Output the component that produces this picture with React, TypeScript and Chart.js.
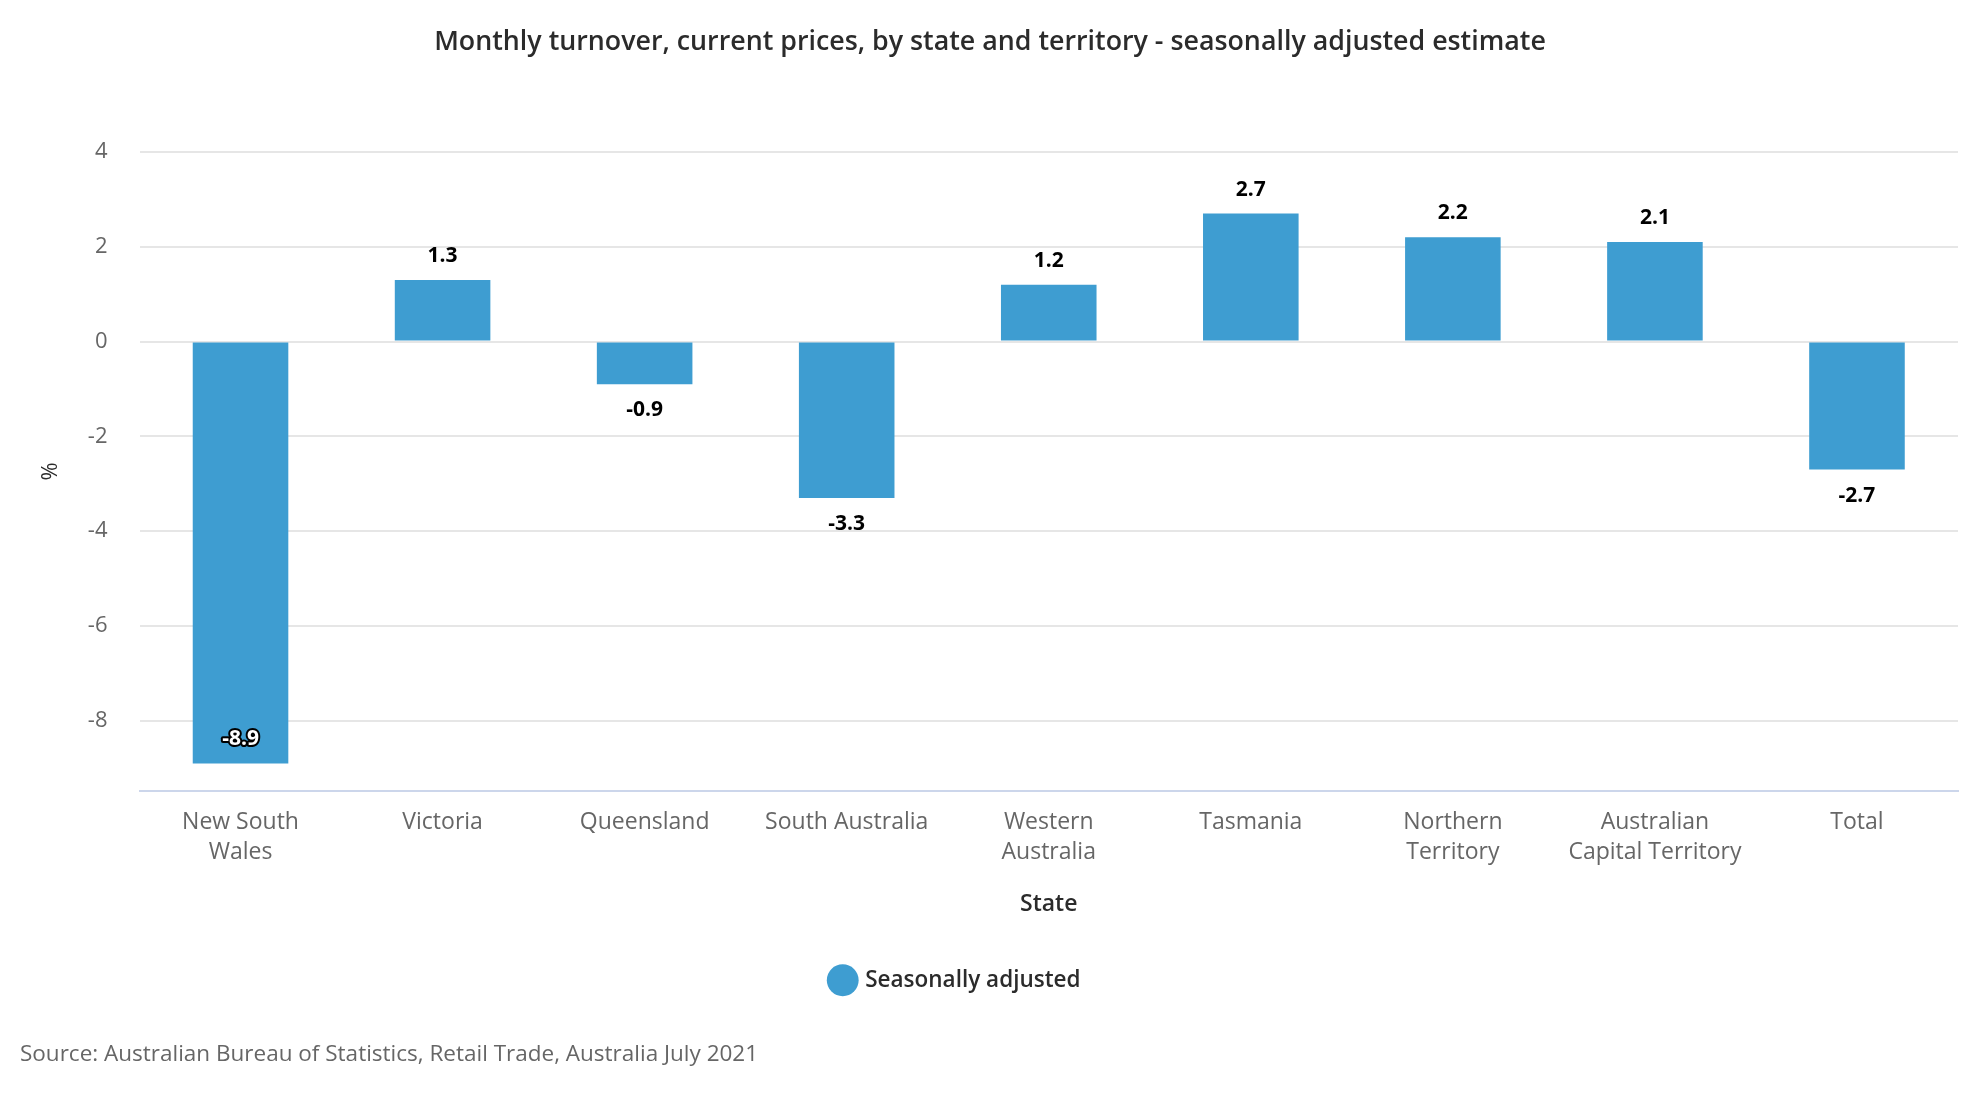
import React, { useEffect, useRef } from "react";
import { Chart, registerables } from "chart.js";

Chart.register(...registerables);

const titleText =
  "Monthly turnover, current prices, by state and territory - seasonally adjusted estimate";
const sourceText =
  "Source: Australian Bureau of Statistics, Retail Trade, Australia July 2021";
const seriesName = "Seasonally adjusted";
const xAxisTitle = "State";
const yAxisTitle = "%";

const categories: (string | string[])[] = [
  ["New South", "Wales"],
  "Victoria",
  "Queensland",
  "South Australia",
  ["Western", "Australia"],
  "Tasmania",
  ["Northern", "Territory"],
  ["Australian", "Capital Territory"],
  "Total",
];
const seasonallyAdjusted = [-8.9, 1.3, -0.9, -3.3, 1.2, 2.7, 2.2, 2.1, -2.7];
const yTickValues = [-8, -6, -4, -2, 0, 2, 4];
const yMin = -9.48;
const yMax = 4;

const FONT = "'Open Sans', 'Noto Sans', sans-serif";
const BAR_COLOR = "#3e9dd1";

const barLabelPlugin = {
  id: "barLabels",
  afterDatasetsDraw(chart: any) {
    const { ctx, chartArea } = chart;
    const meta = chart.getDatasetMeta(0);
    const data = chart.data.datasets[0].data as number[];
    ctx.save();
    ctx.font = `700 21px ${FONT}`;
    ctx.textAlign = "center";
    ctx.textBaseline = "middle";
    ctx.lineJoin = "round";
    meta.data.forEach((el: any, i: number) => {
      const v = data[i];
      const text = v.toFixed(1);
      let y: number;
      let inside = false;
      if (v >= 0) {
        y = el.y - 24;
      } else {
        y = el.y + 26;
        if (y + 12 > chartArea.bottom) {
          y = el.y - 24;
          inside = true;
        }
      }
      if (inside) {
        ctx.strokeStyle = "#000000";
        ctx.lineWidth = 4;
        ctx.strokeText(text, el.x, y);
        ctx.fillStyle = "#ffffff";
        ctx.fillText(text, el.x, y);
      } else {
        ctx.fillStyle = "#000000";
        ctx.fillText(text, el.x, y);
      }
    });
    ctx.restore();
  },
};

const textPlugin = {
  id: "titleSource",
  afterLayout(chart: any) {
    const lg = chart.legend;
    if (lg) {
      lg.left -= 23;
      lg.right -= 23;
    }
  },
  afterDraw(chart: any) {
    const { ctx } = chart;
    ctx.save();
    ctx.textBaseline = "middle";
    ctx.textAlign = "center";
    ctx.fillStyle = "#2b2b2b";
    ctx.font = `600 26.8px ${FONT}`;
    ctx.fillText(titleText, 990, 42);
    ctx.textAlign = "left";
    ctx.fillStyle = "#666666";
    ctx.font = `400 22.5px ${FONT}`;
    ctx.fillText(sourceText, 20, 1055);
    ctx.restore();
  },
};

export default function App() {
  const canvasRef = useRef<HTMLCanvasElement | null>(null);

  useEffect(() => {
    if (!canvasRef.current) return;
    const chart = new Chart(canvasRef.current, {
      type: "bar",
      data: {
        labels: categories,
        datasets: [
          {
            label: seriesName,
            data: seasonallyAdjusted,
            backgroundColor: BAR_COLOR,
            borderWidth: 0,
            categoryPercentage: 1,
            barPercentage: 0.473,
          },
        ],
      },
      options: {
        animation: false,
        responsive: true,
        maintainAspectRatio: false,
        layout: { padding: { top: 152, right: 22, bottom: 98.5, left: 0 } },
        plugins: {
          title: { display: false },
          tooltip: { enabled: false },
          legend: {
            position: "bottom",
            labels: {
              usePointStyle: true,
              pointStyle: "circle",
              boxWidth: 22.6,
              boxHeight: 22.6,
              padding: 10,
              color: "#2b2b2b",
              font: { family: FONT, size: 22.5, weight: "600" },
            },
          },
        },
        scales: {
          x: {
            type: "category",
            grid: { display: false, drawTicks: false },
            border: { display: true, color: "#ccd6eb", width: 2 },
            ticks: {
              color: "#666666",
              font: { family: FONT, size: 23, lineHeight: 1.3 },
              padding: 17,
              maxRotation: 0,
              minRotation: 0,
              autoSkip: false,
            },
            title: {
              display: true,
              text: xAxisTitle,
              color: "#2b2b2b",
              font: { family: FONT, size: 23, weight: "600", lineHeight: 1.2 },
              padding: { top: 0, bottom: 41 },
            },
            afterFit(scale: any) {
              scale.height = 168;
            },
          },
          y: {
            type: "linear",
            min: yMin,
            max: yMax,
            grid: { color: "#e6e6e6", lineWidth: 2, drawTicks: false },
            border: { display: false },
            ticks: {
              color: "#666666",
              font: { family: FONT, size: 22 },
              padding: 32,
            },
            afterBuildTicks(axis: any) {
              axis.ticks = yTickValues.map((v) => ({ value: v }));
            },
            title: {
              display: true,
              text: yAxisTitle,
              color: "#2b2b2b",
              font: { family: FONT, size: 22, weight: "400", lineHeight: 1.2 },
              padding: { top: 38, bottom: 0 },
            },
            afterFit(scale: any) {
              scale.width = 139.5;
            },
          },
        },
      },
      plugins: [barLabelPlugin, textPlugin],
    });
    return () => chart.destroy();
  }, []);

  return (
    <div
      style={{
        position: "fixed",
        left: 0,
        top: 0,
        width: 1980,
        height: 1100,
        background: "#ffffff",
      }}
    >
      <canvas ref={canvasRef} />
    </div>
  );
}
